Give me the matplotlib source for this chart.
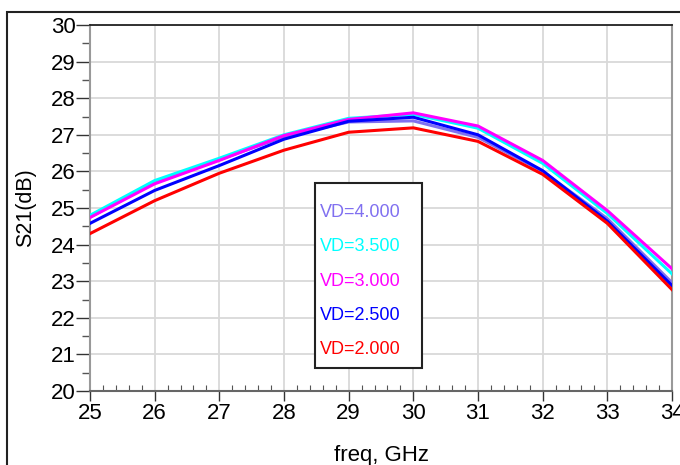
import matplotlib
matplotlib.use("Agg")
import matplotlib.pyplot as plt
from matplotlib.patches import Rectangle
from matplotlib.ticker import MultipleLocator

plt.rcParams['font.family'] = ['Liberation Sans', 'DejaVu Sans']

freq = [25, 26, 27, 28, 29, 30, 31, 32, 33, 34]
vd_labels = ["VD=4.000", "VD=3.500", "VD=3.000", "VD=2.500", "VD=2.000"]
colors = ["#8070F0", "#00FFFF", "#FF00FF", "#0000FF", "#FF0000"]
s21_vd40 = [24.75, 25.71, 26.32, 26.95, 27.35, 27.38, 26.93, 26.00, 24.71, 22.96]
s21_vd35 = [24.80, 25.75, 26.36, 27.00, 27.45, 27.56, 27.18, 26.22, 24.85, 23.20]
s21_vd30 = [24.74, 25.66, 26.30, 26.98, 27.42, 27.60, 27.24, 26.30, 24.93, 23.34]
s21_vd25 = [24.58, 25.48, 26.16, 26.88, 27.37, 27.48, 27.00, 26.02, 24.64, 22.88]
s21_vd20 = [24.30, 25.20, 25.95, 26.58, 27.07, 27.19, 26.82, 25.92, 24.58, 22.77]
series = [s21_vd40, s21_vd35, s21_vd30, s21_vd25, s21_vd20]

fig = plt.figure(figsize=(6.8, 4.65), dpi=100)
ax = fig.add_axes([90/680, 1-391/465, 582/680, 366/465])

for y, c in zip(series, colors):
    ax.plot(freq, y, color=c, lw=2.2, solid_joinstyle='miter', zorder=3)

ax.set_xlim(25, 34)
ax.set_ylim(20, 30)
ax.xaxis.set_major_locator(MultipleLocator(1))
ax.xaxis.set_minor_locator(MultipleLocator(0.2))
ax.yaxis.set_major_locator(MultipleLocator(1))
ax.yaxis.set_minor_locator(MultipleLocator(0.5))
ax.grid(True, which='major', color='#d9d9d9', lw=1.3, zorder=0)

ax.tick_params(axis='both', which='major', labelsize=16, width=1.0, color='#333333')
ax.tick_params(axis='y', which='major', length=10, pad=0.5)
ax.tick_params(axis='x', which='major', length=7, pad=1.5)
ax.tick_params(axis='y', which='minor', direction='out', length=6, width=1.0, color='#555555')
ax.tick_params(axis='x', which='minor', direction='in', length=4, width=0.8, color='#555555')

for side in ['left', 'right', 'bottom']:
    ax.spines[side].set_color('#999999')
    ax.spines[side].set_linewidth(1.5)
ax.spines['bottom'].set_color('#666666')
ax.spines['top'].set_color('#222222')
ax.spines['top'].set_linewidth(1.3)

ax.set_ylabel("S21(dB)", fontsize=15.5, va='center')
ax.set_xlabel("freq, GHz", fontsize=16, va='center')
ax.yaxis.set_label_coords(-64/582, 0.5)
ax.xaxis.set_label_coords(0.5, -64/366)

# legend box
box = Rectangle((315/680, 1-368/465), 107/680, 185/465, transform=fig.transFigure,
                facecolor='white', edgecolor='#222222', lw=1.5, zorder=5)
fig.add_artist(box)
ys = [212, 246, 281, 315, 349]
for lab, c, yy in zip(vd_labels, colors, ys):
    fig.text(320/680, 1-yy/465, lab, color=c, fontsize=13, va='center', ha='left', zorder=6)

# outer frame
frame = Rectangle((7/680, -0.1), 1.2, 1-12/465+0.1, transform=fig.transFigure,
                  facecolor='none', edgecolor='#222222', lw=1.5, zorder=10)
fig.add_artist(frame)

fig.savefig("out.png", dpi=100)
